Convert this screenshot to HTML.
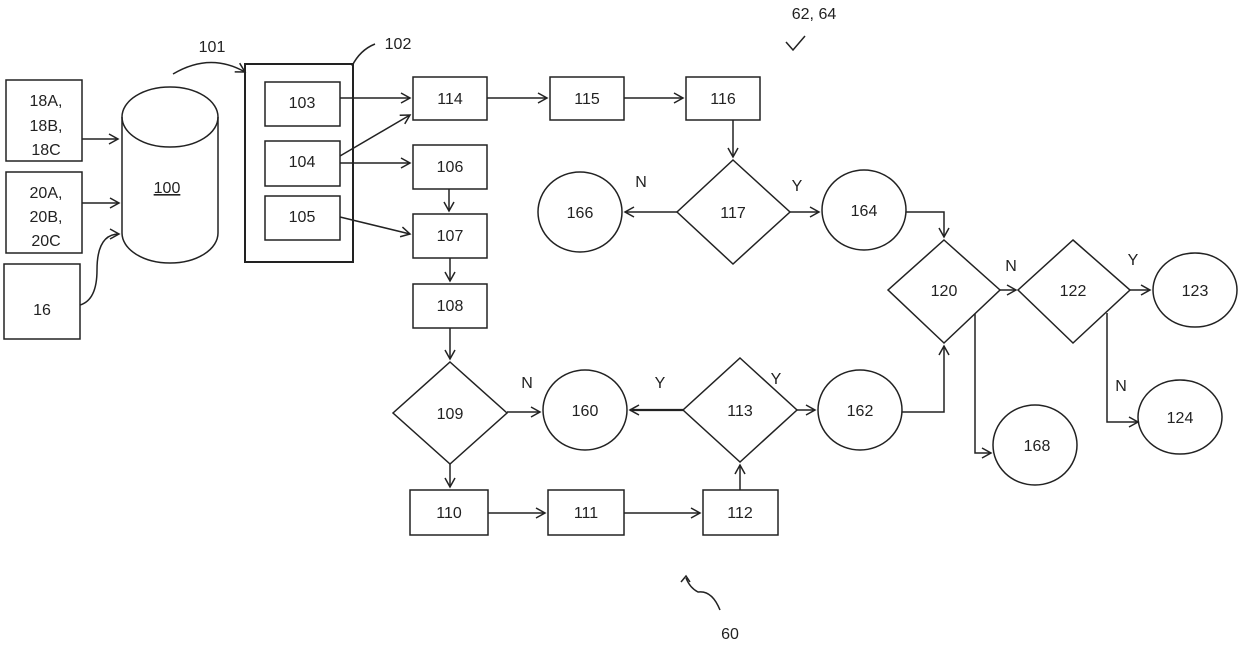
<!DOCTYPE html>
<html><head><style>body{margin:0;background:#fff}svg{display:block}</style></head><body>
<svg width="1240" height="646" viewBox="0 0 1240 646" xmlns="http://www.w3.org/2000/svg" font-family="Liberation Sans, sans-serif" font-size="16" fill="none" stroke="#222" stroke-width="1.5">
<defs><marker id="a" markerWidth="12" markerHeight="12" refX="10" refY="6" orient="auto" markerUnits="userSpaceOnUse"><path d="M1,1 L10,6 L1,11" fill="none" stroke="#222" stroke-width="1.5"/></marker></defs>
<g>
<rect x="6" y="80" width="76" height="81"/><rect x="6" y="172" width="76" height="81"/><rect x="4" y="264" width="76" height="75"/>
<path d="M122,117 V233 A48,30 0 0 0 218,233 V117"/><ellipse cx="170" cy="117" rx="48" ry="30"/>
<rect x="245" y="64" width="108" height="198" stroke-width="2"/>
<rect x="265" y="82" width="75" height="44"/><rect x="265" y="141" width="75" height="45"/><rect x="265" y="196" width="75" height="44"/>
<rect x="413" y="77" width="74" height="43"/><rect x="413" y="145" width="74" height="44"/><rect x="413" y="214" width="74" height="44"/><rect x="413" y="284" width="74" height="44"/>
<rect x="550" y="77" width="74" height="43"/><rect x="686" y="77" width="74" height="43"/>
<rect x="410" y="490" width="78" height="45"/><rect x="548" y="490" width="76" height="45"/><rect x="703" y="490" width="75" height="45"/>
<path d="M733,160 L790,212 L733,264 L677,212Z"/><path d="M944,240 L1000,290 L944,343 L888,290Z"/><path d="M1073,240 L1130,290 L1073,343 L1018,290Z"/>
<path d="M450,362 L507,413 L450,464 L393,413Z"/><path d="M740,358 L797,410 L740,462 L683,410Z"/>
<ellipse cx="580" cy="212" rx="42" ry="40"/><ellipse cx="864" cy="210" rx="42" ry="40"/><ellipse cx="1195" cy="290" rx="42" ry="37"/>
<ellipse cx="1180" cy="417" rx="42" ry="37"/><ellipse cx="1035" cy="445" rx="42" ry="40"/><ellipse cx="585" cy="410" rx="42" ry="40"/><ellipse cx="860" cy="410" rx="42" ry="40"/>
</g>
<g marker-end="url(#a)">
<path d="M82,139 H118"/><path d="M82,203 H119"/><path d="M80,305 Q97,300 97,270 Q97,234 119,234"/>
<path d="M173,74 Q210,52 245,72"/>
<path d="M340,98 H410"/><path d="M340,156 L410,115"/><path d="M340,163 H410"/><path d="M340,217 L410,234"/>
<path d="M487,98 H547"/><path d="M624,98 H683"/><path d="M733,120 V157"/>
<path d="M449,189 V211"/><path d="M450,258 V281"/><path d="M450,328 V359"/>
<path d="M677,212 H625"/><path d="M790,212 H819"/><path d="M906,212 H944 V237"/>
<path d="M1000,290 H1016"/><path d="M1130,290 H1150"/><path d="M1107,313 V422 H1138"/><path d="M975,314 V453 H991"/>
<path d="M902,412 H944 V346"/>
<path d="M507,412 H540"/><path d="M683,410 H630" stroke-width="2.2"/><path d="M797,410 H815"/>
<path d="M450,464 V487"/><path d="M488,513 H545"/><path d="M624,513 H700"/><path d="M740,490 V465"/>
</g>
<path d="M352,66 Q360,50 375,44"/>
<path d="M786,42 L793,50 L805,36"/>
<path d="M720,610 Q712,590 698,592 Q690,588 686,578" /><path d="M681,582 L686,576 L690,582"/>
<g fill="#222" stroke="none" text-anchor="middle">
<text x="46" y="106">18A,</text><text x="46" y="131">18B,</text><text x="46" y="155">18C</text>
<text x="46" y="198">20A,</text><text x="46" y="222">20B,</text><text x="46" y="246">20C</text>
<text x="42" y="315">16</text><text x="167" y="193" text-decoration="underline">100</text>
<text x="212" y="52">101</text><text x="398" y="49">102</text>
<text x="302" y="108">103</text><text x="302" y="167">104</text><text x="302" y="222">105</text>
<text x="450" y="104">114</text><text x="450" y="172">106</text><text x="450" y="241">107</text><text x="450" y="311">108</text>
<text x="587" y="104">115</text><text x="723" y="104">116</text>
<text x="733" y="218">117</text><text x="580" y="218">166</text><text x="864" y="216">164</text>
<text x="944" y="296">120</text><text x="1073" y="296">122</text><text x="1195" y="296">123</text><text x="1180" y="423">124</text><text x="1037" y="451">168</text>
<text x="450" y="419">109</text><text x="585" y="416">160</text><text x="740" y="416">113</text><text x="860" y="416">162</text>
<text x="449" y="518">110</text><text x="586" y="518">111</text><text x="740" y="518">112</text>
<text x="641" y="187">N</text><text x="797" y="191">Y</text><text x="1011" y="271">N</text><text x="1133" y="265">Y</text><text x="1121" y="391">N</text>
<text x="527" y="388">N</text><text x="660" y="388">Y</text><text x="776" y="384">Y</text>
<text x="814" y="19">62, 64</text><text x="730" y="639">60</text>
</g>
</svg>
</body></html>
